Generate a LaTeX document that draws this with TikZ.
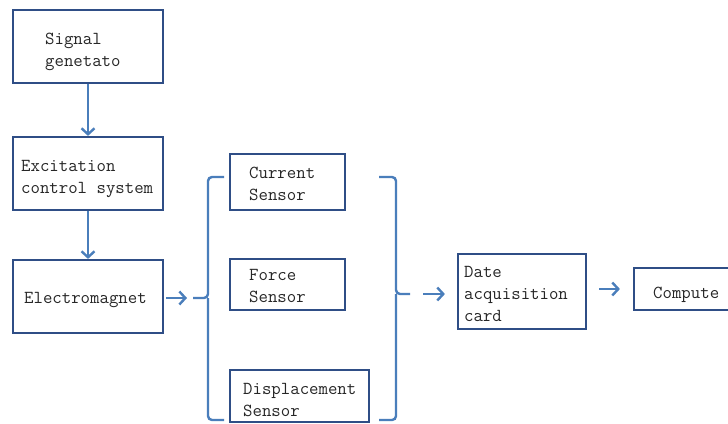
\documentclass[tikz,border=0pt]{standalone}
\usepackage{fontspec}
\usetikzlibrary{arrows.meta}
\definecolor{boxline}{HTML}{2F4E86}
\definecolor{arrowline}{HTML}{4A7EBB}
\tikzset{
  box/.style={draw=boxline, line width=2.2pt, rectangle, inner sep=0pt},
  txt/.style={anchor=base west, inner sep=0pt, align=left,
    font=\ttfamily\fontsize{18.3}{22}\selectfont, text=black!85},
  arr/.style={draw=arrowline, line width=2.4pt,
    -{Straight Barb[length=6pt,width=13pt,line width=2.4pt]}},
  brace/.style={draw=arrowline, line width=2.4pt, rounded corners=4pt},
}
\begin{document}
\begin{tikzpicture}[x=1pt,y=-1pt]
\useasboundingbox[fill=white] (0,0) rectangle (728,423);
% left column
\node[box, minimum width=150pt, minimum height=73pt] (sig) at (88,46.5) {};
\node[box, minimum width=150pt, minimum height=73pt] (exc) at (88,173.5) {};
\node[box, minimum width=150pt, minimum height=73pt] (em)  at (88,296.5) {};
% sensors
\node[box, minimum width=115pt, minimum height=56pt] (cur) at (287.5,182) {};
\node[box, minimum width=115pt, minimum height=51pt] (frc) at (287.5,284.5) {};
\node[box, minimum width=139pt, minimum height=52pt] (dsp) at (299.5,396) {};
% acquisition and computer
\node[box, minimum width=128pt, minimum height=75pt] (dac) at (522,291.5) {};
\node[box, minimum width=110pt, minimum height=42pt] (cmp) at (689,289) {};
% labels (anchored at the baseline of their last line)
\node[txt] (tsig) at (45,66) {Signal\\genetato};
\node[txt] (texc) at (21,193) {Excitation\\control system};
\node[txt] (tem)  at (24,303) {Electromagnet};
\node[txt] (tcur) at (249,200) {Current\\Sensor};
\node[txt] (tfrc) at (249,302) {Force\\Sensor};
\node[txt] (tdsp) at (243,416) {Displacement\\Sensor};
\node[txt] (tdac) at (464,321) {Date\\acquisition\\card};
\node[txt] (tcmp) at (653,298) {Compute};
% brace tips
\coordinate (lb) at (193,298);
\coordinate (rb) at (410,294);
% braces
\draw[brace] (224,177) -| (208,298) -- (lb);
\draw[brace] (224,420) -| (208,298);
\draw[brace] (379,177) -| (396,294) -- (rb);
\draw[brace] (379,420) -| (396,294);
% connectors
\draw[arr] (sig.south) -- (exc.north);
\draw[arr] (exc.south) -- (em.north);
\draw[arr, shorten <=2pt, shorten >=6pt] (em.east |- lb) -- (lb);
\draw[arr, shorten <=13pt, shorten >=12pt] (rb) -- (rb -| dac.west);
\draw[arr, shorten <=12pt, shorten >=13pt] (dac.east |- cmp) -- (cmp.west);
\end{tikzpicture}
\end{document}
